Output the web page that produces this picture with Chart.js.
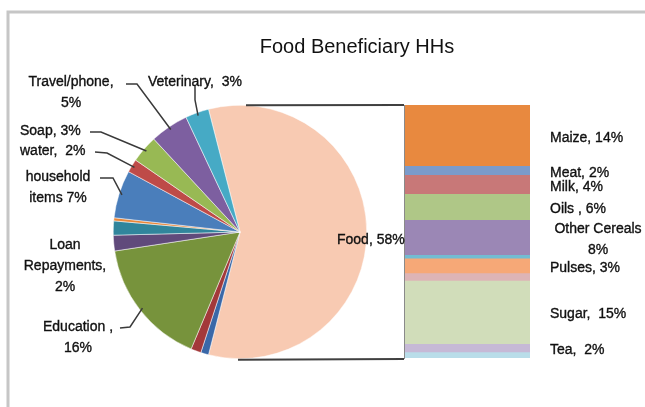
<!DOCTYPE html>
<html>
<head>
<meta charset="utf-8">
<script src="https://cdn.jsdelivr.net/npm/chart.js@4.4.0/dist/chart.umd.min.js"></script>
<style>
  html, body { margin: 0; padding: 0; background: #fff; }
  #wrap { position: relative; width: 645px; height: 407px; overflow: hidden; }
  #wrap canvas { position: absolute; left: 0; top: 0; }
</style>
</head>
<body>
<div id="wrap">
  <canvas id="bar-chart" width="645" height="407"></canvas>
  <canvas id="pie-chart" width="645" height="407"></canvas>
</div>
<script>
const chartTitle = 'Food Beneficiary HHs';

// main pie, share of spending (%)
const pieCategories = ['Food', 'Unlabelled 1', 'Unlabelled 2', 'Education', 'Loan Repayments', 'Unlabelled 3',
    'Unlabelled 4', 'household items', 'water', 'Soap', 'Travel/phone', 'Veterinary'];
const pieValues = [58, 1.0, 1.3, 16.3, 2.0, 1.8, 0.4, 6.1, 1.7, 3.5, 4.9, 3.0];
const pieColors = ['#F8CAB2', '#3A68A8', '#A3393A', '#77933C', '#604A7B', '#31859C',
    '#E9873A', '#4A7EBB', '#BE4B48', '#98B954', '#7D5FA0', '#46AAC5'];
const pieLabels = ['Food, 58%', '', '', 'Education ,\n16%', 'Loan\nRepayments,\n2%', '',
    '', 'household\nitems 7%', 'water,  2%', 'Soap, 3%', 'Travel/phone,\n5%', 'Veterinary,  3%'];

// the Food slice broken down in the bar (%)
const foodCategories = ['Maize', 'Meat', 'Milk', 'Oils', 'Other Cereals', 'Unlabelled A', 'Pulses',
    'Unlabelled B', 'Sugar', 'Tea', 'Unlabelled C'];
const foodValues = [13.9, 2.1, 4.3, 6.0, 8.0, 0.8, 3.4, 1.7, 14.5, 1.9, 1.4];
const foodColors = ['#E8893F', '#7B9BCB', '#C87878', '#AFC787', '#9B87B5', '#72BCD2', '#F6A877',
    '#DDB4B6', '#D1DDBA', '#C6B9D6', '#B9DDE9'];
const foodLabels = ['Maize, 14%', 'Meat, 2%', 'Milk, 4%', 'Oils , 6%', 'Other Cereals\n8%', '', 'Pulses, 3%',
    '', 'Sugar,  15%', 'Tea,  2%', ''];

// where the pie labels sit, and the bend of their leader lines
const pieLabelPlacement = {
    0: { x: 337, y: 240, align: 'left' },
    3: { x: 78, y: 327, align: 'center', leader: [[120, 328], [130, 327]] },
    4: { x: 65, y: 245, align: 'center' },
    7: { x: 58, y: 177, align: 'center', leader: [[100, 178], [113, 178]] },
    8: { x: 20, y: 151, align: 'left', leader: [[95, 152], [107, 153]] },
    9: { x: 20, y: 131, align: 'left', leader: [[90, 132], [101, 132]] },
    10: { x: 71, y: 82, align: 'center', leader: [[126, 84], [137, 84]] },
    11: { x: 148, y: 82, align: 'left', leader: [[195, 86], [195, 100]] }
};

const labelFont = '14px "Liberation Sans", Arial, sans-serif';
const textColor = '#111111';
const lineHeight = 21;

function drawLines(ctx, text, x, y, align) {
    const lines = text.split('\n');
    ctx.textAlign = align;
    lines.forEach((line, i) => {
        ctx.fillText(line, x, y + i * lineHeight);
        ctx.strokeText(line, x, y + i * lineHeight);
    });
}

const foodTotal = foodValues.reduce((a, b) => a + b, 0);

const barChart = new Chart(document.getElementById('bar-chart'), {
    type: 'bar',
    data: {
        labels: ['Food'],
        datasets: foodCategories.map((name, i) => ({
            label: name,
            data: [foodValues[i]],
            backgroundColor: foodColors[i],
            borderWidth: 0,
            barPercentage: 1,
            categoryPercentage: 1
        }))
    },
    options: {
        responsive: false,
        animation: false,
        layout: { padding: { left: 404, right: 115, top: 105, bottom: 49 } },
        scales: {
            x: { display: false, stacked: true },
            y: { display: false, stacked: true, min: 0, max: foodTotal, reverse: true }
        },
        plugins: { legend: { display: false }, tooltip: { enabled: false } }
    }
});

// frame, title, connectors and all the labels
const annotations = {
    id: 'annotations',
    afterDraw(chart) {
        const ctx = chart.ctx;
        ctx.save();

        // chart frame
        ctx.strokeStyle = '#c6c6c6';
        ctx.lineWidth = 3;
        ctx.beginPath();
        ctx.moveTo(8, 407);
        ctx.lineTo(8, 12);
        ctx.lineTo(645, 12);
        ctx.stroke();

        // title
        ctx.fillStyle = textColor;
        ctx.font = '20px "Liberation Sans", Arial, sans-serif';
        ctx.textBaseline = 'middle';
        ctx.textAlign = 'center';
        ctx.fillText(chartTitle, 357, 47);

        const arcs = chart.getDatasetMeta(0).data;
        const food = arcs[0].getProps(['x', 'y', 'outerRadius']);
        const yScale = barChart.scales.y;
        const barMeta = barChart.getDatasetMeta(0).data[0];
        const barLeft = barMeta.x - barMeta.width / 2;
        const barTop = yScale.getPixelForValue(0);
        const barBottom = yScale.getPixelForValue(foodTotal);

        // connectors between the pie and the bar
        ctx.strokeStyle = '#404040';
        ctx.lineWidth = 2;
        ctx.beginPath();
        ctx.moveTo(food.x + 6, food.y - food.outerRadius);
        ctx.lineTo(barLeft, barTop);
        ctx.moveTo(food.x - 2, food.y + food.outerRadius + 1);
        ctx.lineTo(barLeft, barBottom + 1);
        ctx.stroke();
        ctx.strokeStyle = '#8a8a8a';
        ctx.lineWidth = 1;
        ctx.beginPath();
        ctx.moveTo(barLeft + 0.5, barTop);
        ctx.lineTo(barLeft + 0.5, barBottom + 1);
        ctx.stroke();

        // pie labels with leader lines
        ctx.font = labelFont;
        ctx.fillStyle = textColor;
        ctx.strokeStyle = textColor;
        ctx.lineWidth = 0.35;
        Object.keys(pieLabelPlacement).forEach(key => {
            const i = Number(key);
            const p = pieLabelPlacement[i];
            ctx.strokeStyle = textColor;
            ctx.lineWidth = 0.35;
            drawLines(ctx, pieLabels[i], p.x, p.y, p.align);
            if (p.leader) {
                const a = arcs[i].getProps(['x', 'y', 'startAngle', 'endAngle', 'outerRadius']);
                const mid = (a.startAngle + a.endAngle) / 2;
                ctx.strokeStyle = '#3a3a3a';
                ctx.lineWidth = 1.5;
                ctx.beginPath();
                ctx.moveTo(p.leader[0][0], p.leader[0][1]);
                ctx.lineTo(p.leader[1][0], p.leader[1][1]);
                ctx.lineTo(a.x + Math.cos(mid) * (a.outerRadius - 3), a.y + Math.sin(mid) * (a.outerRadius - 3));
                ctx.stroke();
            }
        });

        // bar labels, beside the middle of each segment
        ctx.strokeStyle = textColor;
        ctx.lineWidth = 0.35;
        let cum = 0;
        foodValues.forEach((v, i) => {
            const text = foodLabels[i];
            const yMid = yScale.getPixelForValue(cum + v / 2) + 2.5;
            cum += v;
            if (!text) return;
            const n = text.split('\n').length;
            const y0 = yMid - (n - 1) * lineHeight / 2;
            if (n > 1) {
                drawLines(ctx, text, 598, y0, 'center');
            } else {
                drawLines(ctx, text, 550, y0, 'left');
            }
        });

        ctx.restore();
    }
};

const pieTotal = pieValues.reduce((a, b) => a + b, 0);

const pieChart = new Chart(document.getElementById('pie-chart'), {
    type: 'pie',
    data: {
        labels: pieCategories,
        datasets: [{
            data: pieValues,
            backgroundColor: pieColors,
            borderColor: '#ffffff',
            borderWidth: 0.5
        }]
    },
    options: {
        responsive: false,
        animation: false,
        // Food faces the bar on the right
        rotation: 90 - pieValues[0] / pieTotal * 180,
        layout: { padding: { left: 113, top: 105, right: 278, bottom: 48 } },
        plugins: { legend: { display: false }, tooltip: { enabled: false } }
    },
    plugins: [annotations]
});
</script>
</body>
</html>
